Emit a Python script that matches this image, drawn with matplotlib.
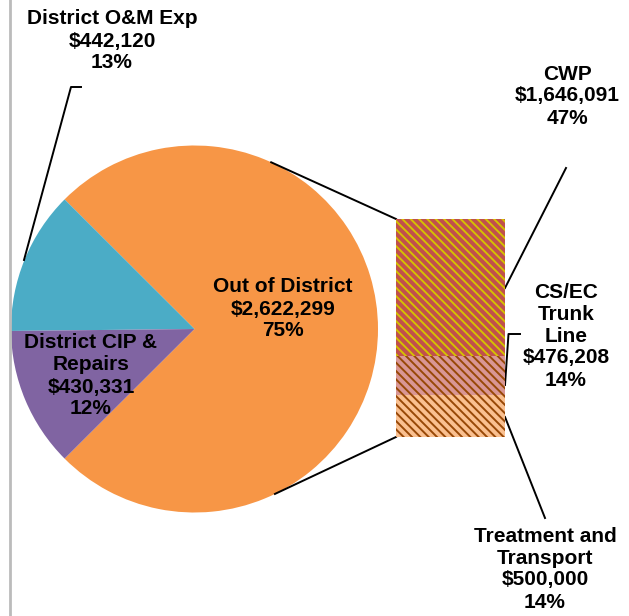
import numpy as np
import matplotlib.pyplot as plt

# pie: main split of the spending
pie_labels = ['Out of District', 'District O&M Exp', 'District CIP &\nRepairs']
pie_values = [2622299, 442120, 430331]
pie_colors = ['#F79646', '#4BACC6', '#8064A2']

# bar: breakdown of "Out of District", bottom to top
bar_labels = ['Treatment and\nTransport', 'CS/EC\nTrunk\nLine', 'CWP']
bar_values = [500000, 476208, 1646091]
bar_colors = ['#FAC090', '#D99694', '#C0504D']
hatch_colors = ['#984807', '#984807', '#D4C200']

W, H = 629, 616
total = sum(pie_values)


def label(name, value):
    return f"{name}\n${value:,}\n{value / total * 100:.0f}%"


def P(x, y):
    # image pixel coords (y down) -> axes coords (y up)
    return x, H - y


plt.rcParams['hatch.linewidth'] = 1.4
font = dict(family=['Liberation Sans', 'DejaVu Sans'], fontsize=15,
            fontweight='bold', ha='center', va='center')

fig = plt.figure(figsize=(W / 100, H / 100), dpi=100)
ax = fig.add_axes([0, 0, 1, 1])

cx, cy = P(194.5, 329)
r = 183.5
start = -pie_values[0] / total * 180
ax.pie(pie_values, colors=pie_colors, startangle=start, center=(cx, cy),
       radius=r, wedgeprops=dict(linewidth=0))
ax.set_xlim(0, W)
ax.set_ylim(0, H)
ax.set_aspect('auto')
ax.axis('off')

# bar of pie
bx, by, bw, bh = 396, 219, 109, 218
ax2 = fig.add_axes([bx / W, (H - by - bh) / H, bw / W, bh / H])
bottoms = np.concatenate([[0], np.cumsum(bar_values)[:-1]])
ax2.bar(0, bar_values, bottom=bottoms, width=1, color=bar_colors,
        edgecolor=hatch_colors, hatch='\\\\\\\\', linewidth=0)
ax2.set_xlim(-0.5, 0.5)
ax2.set_ylim(0, sum(bar_values))
ax2.axis('off')

# connectors pie -> bar
for a, yb in [(65.3, by), (-64.0, by + bh)]:
    px = cx + r * np.cos(np.deg2rad(a))
    py = cy + r * np.sin(np.deg2rad(a))
    ax.plot([px, bx], [py, H - yb], color='black', lw=1.4)

# leader lines
lines = [
    [(81, 87), (71, 87), (24, 260)],
    [(566, 168), (505, 288)],
    [(520, 334), (508.5, 334), (505, 385)],
    [(505, 417), (545, 518)],
]
for pts in lines:
    xs, ys = zip(*[P(x, y) for x, y in pts])
    ax.plot(xs, ys, color='black', lw=1.4)

# labels
ax.text(*P(112, 41), label(pie_labels[1], pie_values[1]), **font)
ax.text(*P(283, 309), label(pie_labels[0], pie_values[0]), **font)
ax.text(*P(91, 376), label(pie_labels[2], pie_values[2]), **font)
ax.text(*P(567, 96), label(bar_labels[2], bar_values[2]), **font)
ax.text(*P(566, 336), label(bar_labels[1], bar_values[1]), **font)
ax.text(*P(545, 569), label(bar_labels[0], bar_values[0]), **font)

# left border line
ax.plot([9.5, 9.5], [0, H], color='#BBBBBB', lw=2)

fig.savefig('out.png', dpi=100)
